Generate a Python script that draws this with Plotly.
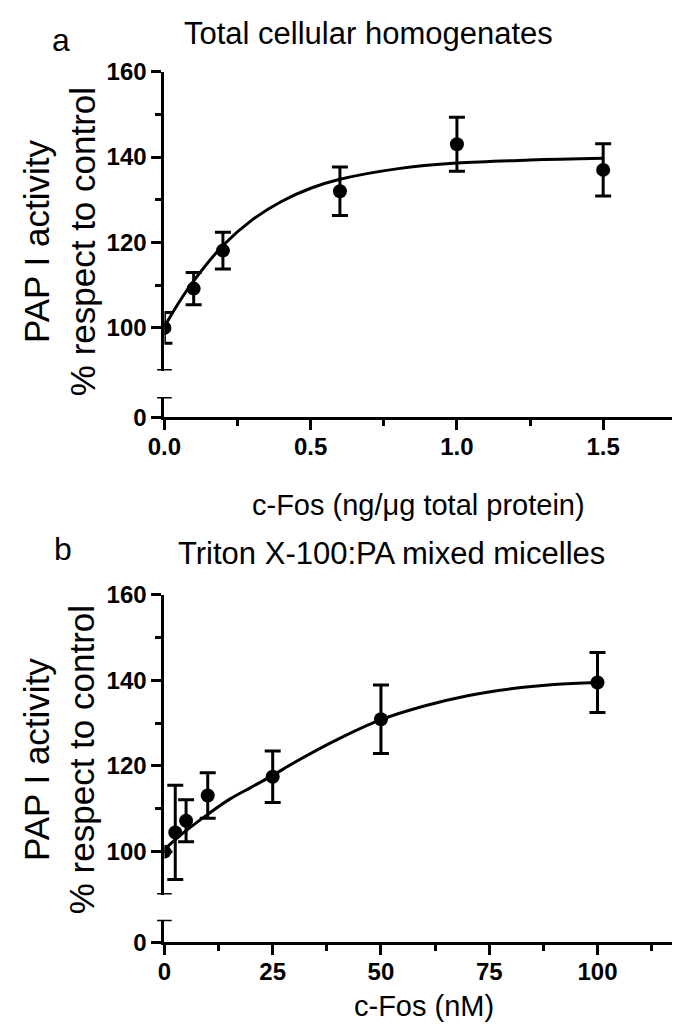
import plotly.graph_objects as go

W, H = 680, 1030

# ---------------- data ----------------
# Panel a: total cellular homogenates
a_x = [0.0, 0.1, 0.2, 0.6, 1.0, 1.5]
a_y = [100.0, 109.2, 118.1, 132.0, 143.0, 137.0]
a_err = [3.6, 3.8, 4.3, 5.7, 6.3, 6.1]
a_fit_x = [0.0, 0.05, 0.1, 0.2, 0.3, 0.4, 0.5, 0.6, 0.8, 1.0, 1.25, 1.5]
a_fit_y = [100.3, 106.0, 111.0, 119.3, 125.3, 129.6, 132.7, 134.8, 137.3, 138.6, 139.3, 139.7]

# Panel b: Triton X-100:PA mixed micelles
b_x = [0, 2.5, 5, 10, 25, 50, 100]
b_y = [100.0, 104.5, 107.2, 113.1, 117.5, 130.9, 139.5]
b_err = [None, 11.0, 4.9, 5.3, 6.0, 8.0, 7.0]
b_fit_x = [0, 2.5, 5, 10, 15, 20, 25, 30, 40, 50, 60, 70, 80, 90, 100]
b_fit_y = [100.5, 102.8, 104.9, 108.7, 112.2, 115.0, 117.8, 120.8, 126.2, 130.8, 134.0, 136.4, 138.0, 139.0, 139.5]

a_xticks = [0.0, 0.5, 1.0, 1.5]
a_xminor = [0.25, 0.75, 1.25, 1.75]
b_xticks = [0, 25, 50, 75, 100]
b_xminor = [12.5, 37.5, 62.5, 87.5, 112.5]
y_ticks = [100, 120, 140, 160]
y_minor = [110, 130, 150]


def px(x):
    return x / W


def py(y):
    return 1 - y / H


FONT = "Liberation Sans, Arial, sans-serif"
tickfont = dict(family=FONT, size=24, color="black", weight="bold")

fig = go.Figure()

fig.add_trace(go.Scatter(x=a_fit_x, y=a_fit_y, mode="lines", line=dict(color="black", width=3, shape="spline"),
                         xaxis="x", yaxis="y", showlegend=False, hoverinfo="skip"))
fig.add_trace(go.Scatter(x=a_x, y=a_y, mode="markers", marker=dict(color="black", size=14),
                         error_y=dict(type="data", array=a_err, visible=True, thickness=3, width=8, color="black"),
                         xaxis="x", yaxis="y", showlegend=False))
fig.add_trace(go.Scatter(x=b_fit_x, y=b_fit_y, mode="lines", line=dict(color="black", width=3, shape="spline"),
                         xaxis="x2", yaxis="y3", showlegend=False, hoverinfo="skip"))
fig.add_trace(go.Scatter(x=b_x, y=b_y, mode="markers", marker=dict(color="black", size=14),
                         error_y=dict(type="data", array=b_err, visible=True, thickness=3, width=8, color="black"),
                         xaxis="x2", yaxis="y3", showlegend=False))

axis_common = dict(showline=True, linewidth=3, linecolor="black", ticks="outside", ticklen=10, tickwidth=3,
                   tickcolor="black", showgrid=False, zeroline=False, tickfont=tickfont)

# panel geometry (pixels)
a_left, a_right = 143, 668
a_top, a_brk_lo, a_low_top, a_bottom = 51, 358, 385, 406
b_left, b_right = 143, 676
b_top, b_brk_lo, b_low_top, b_bottom = 588, 896, 922, 945

a_low_max = (a_bottom - a_low_top) / ((a_brk_lo - a_top) / 70.0)
b_low_max = (b_bottom - b_low_top) / ((b_brk_lo - b_top) / 70.0)

fig.update_layout(
    width=W, height=H, margin=dict(l=0, r=0, t=0, b=0),
    paper_bgcolor="white", plot_bgcolor="white",
    xaxis=dict(domain=[px(a_left), px(a_right)], range=[0, 1.75], anchor="y2",
               tickvals=a_xticks, ticktext=[f"{v:.1f}" for v in a_xticks], ticklabelstandoff=-4,
               minor=dict(tickvals=a_xminor, ticks="outside", ticklen=6, tickwidth=3, tickcolor="black"),
               **axis_common),
    yaxis=dict(domain=[py(a_brk_lo), py(a_top)], range=[90, 160], anchor="x",
               tickvals=y_ticks,
               minor=dict(tickvals=y_minor, ticks="outside", ticklen=6, tickwidth=3, tickcolor="black"),
               **axis_common),
    yaxis2=dict(domain=[py(a_bottom), py(a_low_top)], range=[0, a_low_max], anchor="x",
                tickvals=[0], **axis_common),
    xaxis2=dict(domain=[px(b_left), px(b_right)], range=[0, 120], anchor="y4",
                tickvals=b_xticks, ticklabelstandoff=-4,
                minor=dict(tickvals=b_xminor, ticks="outside", ticklen=6, tickwidth=3, tickcolor="black"),
                **axis_common),
    yaxis3=dict(domain=[py(b_brk_lo), py(b_top)], range=[90, 160], anchor="x2",
                tickvals=y_ticks,
                minor=dict(tickvals=y_minor, ticks="outside", ticklen=6, tickwidth=3, tickcolor="black"),
                **axis_common),
    yaxis4=dict(domain=[py(b_bottom), py(b_low_top)], range=[0, b_low_max], anchor="x2",
                tickvals=[0], **axis_common),
)

# axis break end caps
cap = 7.5
shapes = []
for left, yref_hi, yref_lo, lo_max in [(a_left, "y", "y2", a_low_max), (b_left, "y3", "y4", b_low_max)]:
    shapes.append(dict(type="line", xref="paper", yref=yref_hi, x0=px(left - cap), x1=px(left + cap),
                       y0=90, y1=90, line=dict(color="black", width=3)))
    shapes.append(dict(type="line", xref="paper", yref=yref_lo, x0=px(left - cap), x1=px(left + cap),
                       y0=lo_max, y1=lo_max, line=dict(color="black", width=3)))
fig.update_layout(shapes=shapes)

ann = []


def text(t, x, y, size, angle=0, xanchor="center", yanchor="middle"):
    ann.append(dict(text=t, x=px(x), y=py(y), xref="paper", yref="paper", showarrow=False,
                    xanchor=xanchor, yanchor=yanchor, textangle=angle,
                    font=dict(family=FONT, size=size, color="black")))


text("a", 37, 18, 32)
text("Total cellular homogenates", 352, 12, 31)
text("PAP I activity<br>% respect to control", 35, 226, 35, angle=-90)
text("c-Fos (ng/μg total protein)", 404, 496, 29)

text("b", 39, 541, 32)
text("Triton X-100:PA mixed micelles", 376, 546, 31)
text("PAP I activity<br>% respect to control", 35, 758, 35, angle=-90)
text("c-Fos (nM)", 409, 1011, 29)

fig.update_layout(annotations=ann)

fig.write_html("out.html")
